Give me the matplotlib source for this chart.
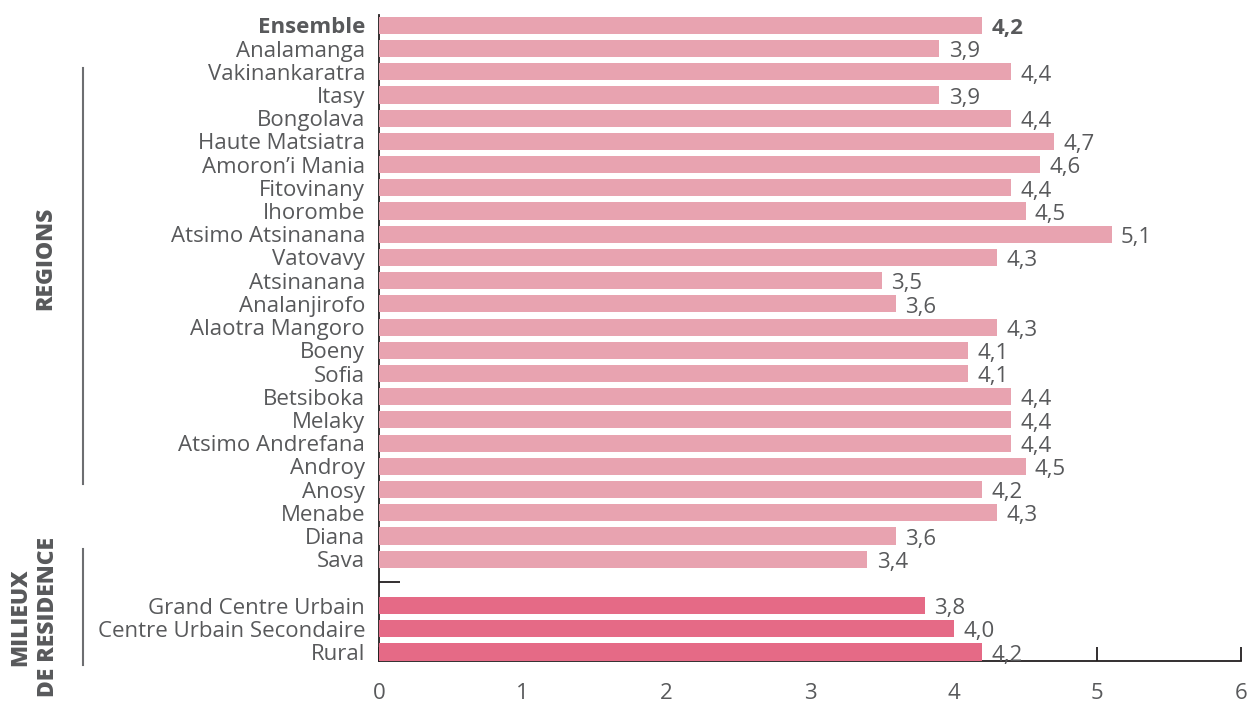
import matplotlib
matplotlib.use("Agg")
import matplotlib.pyplot as plt
from matplotlib.lines import Line2D
from matplotlib.ticker import FixedLocator

plt.rcParams['font.family'] = ['Open Sans', 'DejaVu Sans']

regions = ["Analamanga", "Vakinankaratra", "Itasy", "Bongolava", "Haute Matsiatra",
           "Amoron’i Mania", "Fitovinany", "Ihorombe", "Atsimo Atsinanana", "Vatovavy",
           "Atsinanana", "Analanjirofo", "Alaotra Mangoro", "Boeny", "Sofia",
           "Betsiboka", "Melaky", "Atsimo Andrefana", "Androy", "Anosy", "Menabe",
           "Diana", "Sava"]
region_values = [3.9, 4.4, 3.9, 4.4, 4.7, 4.6, 4.4, 4.5, 5.1, 4.3, 3.5, 3.6, 4.3,
                 4.1, 4.1, 4.4, 4.4, 4.4, 4.5, 4.2, 4.3, 3.6, 3.4]
milieux = ["Grand Centre Urbain", "Centre Urbain Secondaire", "Rural"]
milieux_values = [3.8, 4.0, 4.2]
total_label = "Ensemble"
total_value = 4.2
x_ticks = [0, 1, 2, 3, 4, 5, 6]

LIGHT = "#E8A3B0"
DARK = "#E56A86"
TEXT = "#58595B"
AXIS = "#231F20"
FS = 16

fig = plt.figure(figsize=(12.5, 7.04), dpi=100)
ax = fig.add_axes([379 / 1250, 1 - 661 / 704, (1241 - 379) / 1250, (661 - 15) / 704])

labels = [total_label] + regions + [""] + milieux
values = [total_value] + region_values + [None] + milieux_values
colors = [LIGHT] * (1 + len(regions)) + [None] + [DARK] * len(milieux)

gap_pos = 1 + len(regions)
for i, (lab, v, c) in enumerate(zip(labels, values, colors)):
    if v is None:
        continue
    ax.barh(i, v, height=0.74, color=c, zorder=3)
    txt = f"{v:.1f}".replace(".", ",")
    ax.text(v + 0.065, i + 0.14, txt, va="center", ha="left", fontsize=FS,
            color=TEXT, fontweight="bold" if i == 0 else "normal", zorder=4)

ax.set_ylim(len(labels) - 1 + 0.39, -0.45)
ax.set_xlim(0, 6)

ax.set_yticks([i for i in range(len(labels)) if i != gap_pos])
ax.set_yticklabels([l for i, l in enumerate(labels) if i != gap_pos],
                   fontsize=FS, color=TEXT)
ax.get_yticklabels()[0].set_fontweight("bold")
ax.tick_params(axis="y", length=0, pad=10)
ax.yaxis.set_minor_locator(FixedLocator([gap_pos]))
ax.tick_params(axis="y", which="minor", direction="in", length=15, width=1.3, color=AXIS)

ax.set_xticks(x_ticks)
ax.set_xticklabels([str(t) for t in x_ticks], fontsize=FS, color=TEXT)
ax.tick_params(axis="x", direction="in", length=10, width=1.3, color=AXIS, pad=16)

for s in ["top", "right"]:
    ax.spines[s].set_visible(False)
for s in ["left", "bottom"]:
    ax.spines[s].set_color(AXIS)
    ax.spines[s].set_linewidth(1.3)

# Group brackets and titles
def vline(x, y0, y1):
    fig.add_artist(Line2D([x / 1250, x / 1250], [1 - y0 / 704, 1 - y1 / 704],
                          color="#6D6E71", lw=1.5))

vline(83, 68, 484)
vline(83, 549, 665)
fig.text(45 / 1250, 1 - 258 / 704, "REGIONS", rotation=90, ha="center", va="center",
         fontsize=16.5, fontweight="heavy", color=TEXT)
fig.text(34 / 1250, 1 - 617 / 704, "MILIEUX\nDE RESIDENCE", rotation=90, ha="center",
         va="center", fontsize=16.5, fontweight="heavy", color=TEXT, linespacing=1.2)

fig.savefig("out.png", dpi=100)
